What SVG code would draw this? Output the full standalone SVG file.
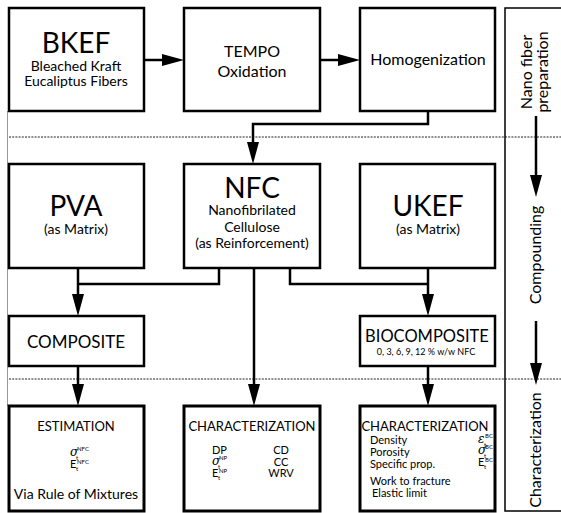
<svg xmlns="http://www.w3.org/2000/svg" width="561" height="513" viewBox="0 0 561 513">
<defs>
<marker id="ah" markerUnits="userSpaceOnUse" markerWidth="22" markerHeight="12" refX="0" refY="6" orient="auto" overflow="visible">
<path d="M0,0 L22,6 L0,12 z" fill="#000"/>
</marker>
<style>
.box{fill:#fff;stroke:#000;stroke-width:2.5}
.boxb{fill:#fff;stroke:#000;stroke-width:3}
.col{fill:none;stroke:#000;stroke-width:1.5}
.dot{stroke:#222;stroke-width:1;stroke-dasharray:2 1.2;fill:none}
.edge{fill:none;stroke:#000;stroke-width:2.5}
.arr{marker-end:url(#ah)}
text{font-family:Lato,"Open Sans","DejaVu Sans",sans-serif;fill:#000;text-anchor:middle}
.big{font-size:28px}
.mid{font-size:16px}
.sm{font-size:14px}
.hd{font-size:13px}
.it{font-size:11px}
.l{text-anchor:start}
.sy{font-family:"DejaVu Serif","Liberation Serif",serif;font-style:italic;font-size:12px}
.e{font-family:Lato,"Open Sans",sans-serif;font-style:normal;font-size:11px}
.sc{font-family:Lato,"Open Sans",sans-serif;font-style:normal;font-size:6px}
.rot{font-size:16px}
</style>
</defs>
<rect width="561" height="513" fill="#fff"/>
<line x1="7.5" y1="111" x2="7.5" y2="406" stroke="#999" stroke-width="1"/>
<g id="dividers">
<line class="dot" x1="9" y1="137" x2="561" y2="137"/>
<line class="dot" x1="9" y1="379" x2="561" y2="379"/>
</g>
<g id="stages">
<rect class="col" x="505" y="8" width="60" height="503"/>
<text class="rot" transform="translate(532,72) rotate(-90)">Nano fiber</text>
<text class="rot" transform="translate(548,72) rotate(-90)">preparation</text>
<text class="rot" transform="translate(541,255) rotate(-90)">Compounding</text>
<text class="rot" transform="translate(541,450) rotate(-90)">Characterization</text>
</g>
<g id="connectors">
<path class="edge arr" d="M144,60 H162"/>
<path class="edge arr" d="M320,60 H338"/>
<path class="edge arr" d="M428,111 V124 H253 V142"/>
<path class="edge arr" d="M78,268 V294"/>
<path class="edge" d="M219,268 V284 H78"/>
<path class="edge arr" d="M254,268 V384"/>
<path class="edge" d="M290,268 V284 H428"/>
<path class="edge arr" d="M428,268 V294"/>
<path class="edge arr" d="M78,366 V384"/>
<path class="edge arr" d="M428,366 V384"/>
<path class="edge arr" d="M536,116 V175"/>
<path class="edge arr" d="M536,321 V363"/>
</g>
<g id="bkef">
<rect class="box" x="9" y="8" width="135" height="103"/>
<text class="big" x="76" y="53">BKEF</text>
<text class="sm" x="76" y="71">Bleached Kraft</text>
<text class="sm" x="76" y="86">Eucaliptus Fibers</text>
</g>
<g id="tempo">
<rect class="box" x="184" y="8" width="136" height="103"/>
<text class="mid" x="252" y="57">TEMPO</text>
<text class="mid" x="252" y="77">Oxidation</text>
</g>
<g id="homogenization">
<rect class="box" x="360" y="8" width="135" height="103"/>
<text class="mid" x="428" y="65">Homogenization</text>
</g>
<g id="pva">
<rect class="box" x="9" y="164" width="135" height="104"/>
<text class="big" x="76" y="216">PVA</text>
<text class="sm" x="76" y="234">(as Matrix)</text>
</g>
<g id="nfc">
<rect class="box" x="184" y="164" width="136" height="104"/>
<text class="big" x="252" y="198">NFC</text>
<text class="sm" x="252" y="215">Nanofibrilated</text>
<text class="sm" x="252" y="232">Cellulose</text>
<text class="sm" x="252" y="248">(as Reinforcement)</text>
</g>
<g id="ukef">
<rect class="box" x="360" y="164" width="135" height="104"/>
<text class="big" x="428" y="216">UKEF</text>
<text class="sm" x="428" y="234">(as Matrix)</text>
</g>
<g id="composite">
<rect class="box" x="9" y="316" width="135" height="50"/>
<text x="76" y="348" style="font-size:17px">COMPOSITE</text>
</g>
<g id="biocomposite">
<rect class="box" x="360" y="316" width="135" height="50"/>
<text x="427" y="342" style="font-size:16.5px">BIOCOMPOSITE</text>
<text x="426" y="355" style="font-size:9px">0, 3, 6, 9, 12 % w/w NFC</text>
</g>
<g id="estimation">
<rect class="boxb" x="9" y="406" width="135" height="105"/>
<text class="hd" x="76" y="431">ESTIMATION</text>
<text class="sy l" x="70" y="456">σ<tspan class="sc" x="76" y="459.5">t</tspan><tspan class="sc" x="77" y="451">NFC</tspan><tspan class="e" x="70" y="468">E</tspan><tspan class="sc" x="76" y="471">t</tspan><tspan class="sc" x="77" y="463.5">NFC</tspan></text>
<text class="sm" x="76" y="499">Via Rule of Mixtures</text>
</g>
<g id="characterization-nfc">
<rect class="boxb" x="184" y="406" width="136" height="105"/>
<text class="hd" x="252" y="431">CHARACTERIZATION</text>
<text class="it l" x="212" y="454">DP</text>
<text class="sy l" x="212" y="465">σ<tspan class="sc" x="218" y="468.5">t</tspan><tspan class="sc" x="219" y="460">NP</tspan><tspan class="e" x="212" y="477">E</tspan><tspan class="sc" x="218" y="480">t</tspan><tspan class="sc" x="219" y="472.5">NP</tspan></text>
<text class="it" x="281" y="454">CD</text>
<text class="it" x="281" y="466">CC</text>
<text class="it" x="281" y="477">WRV</text>
</g>
<g id="characterization-bc">
<rect class="boxb" x="360" y="406" width="135" height="105"/>
<text class="hd" x="425" y="431">CHARACTERIZATION</text>
<text class="it l" x="370" y="444">Density</text>
<text class="it l" x="370" y="456">Porosity</text>
<text class="it l" x="370" y="468">Specific prop.</text>
<text class="it l" x="370" y="485">Work to fracture</text>
<text class="it l" x="372" y="497">Elastic limit</text>
<text class="sy l" x="478" y="443">ε<tspan class="sc" x="484" y="446.5">t</tspan><tspan class="sc" x="485" y="438">BC</tspan><tspan x="478" y="454">σ</tspan><tspan class="sc" x="484" y="457.5">t</tspan><tspan class="sc" x="485" y="449">BC</tspan><tspan class="e" x="478" y="466">E</tspan><tspan class="sc" x="484" y="469">t</tspan><tspan class="sc" x="485" y="461.5">BC</tspan></text>
</g>
</svg>
